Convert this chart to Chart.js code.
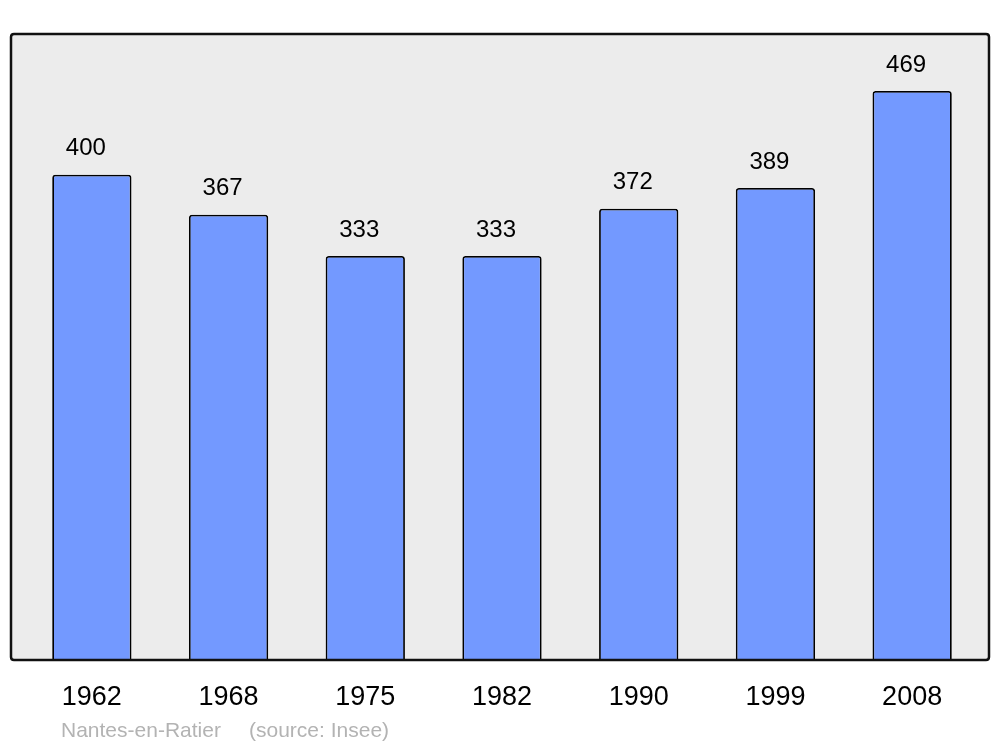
<!DOCTYPE html>
<html>
<head>
<meta charset="utf-8">
<script src="https://cdn.jsdelivr.net/npm/chart.js@4.4.0/dist/chart.umd.min.js"></script>
<style>
  html, body { margin: 0; padding: 0; background: #fff; }
  #wrap { width: 1000px; height: 747px; }
</style>
</head>
<body>
<div id="wrap"><canvas id="popChart" width="1000" height="747"></canvas></div>
<script>
var years = ["1962", "1968", "1975", "1982", "1990", "1999", "2008"];
var population = [400, 367, 333, 333, 372, 389, 469];
var commune = "Nantes-en-Ratier";
var source = "(source: Insee)";

var FONT = "'Liberation Sans', Arial, sans-serif";

function roundRect(ctx, x, y, w, h, r) {
	ctx.beginPath();
	ctx.moveTo(x + r, y);
	ctx.lineTo(x + w - r, y);
	ctx.quadraticCurveTo(x + w, y, x + w, y + r);
	ctx.lineTo(x + w, y + h - r);
	ctx.quadraticCurveTo(x + w, y + h, x + w - r, y + h);
	ctx.lineTo(x + r, y + h);
	ctx.quadraticCurveTo(x, y + h, x, y + h - r);
	ctx.lineTo(x, y + r);
	ctx.quadraticCurveTo(x, y, x + r, y);
	ctx.closePath();
}

// grey frame behind the bars, outline drawn on top
var framePlugin = {
	id: 'frame',
	beforeDatasetsDraw: function(chart) {
		var a = chart.chartArea, ctx = chart.ctx;
		ctx.save();
		roundRect(ctx, a.left - 12.5, a.top, a.right - a.left + 21, a.bottom - a.top, 3);
		ctx.fillStyle = '#ececec';
		ctx.fill();
		ctx.restore();
	},
	afterDatasetsDraw: function(chart) {
		var a = chart.chartArea, ctx = chart.ctx;
		var meta = chart.getDatasetMeta(0);
		ctx.save();
		// value labels
		ctx.fillStyle = '#000';
		ctx.font = '24px ' + FONT;
		ctx.textAlign = 'center';
		ctx.textBaseline = 'middle';
		for (var i = 0; i < meta.data.length; i++) {
			var bar = meta.data[i];
			ctx.fillText(String(population[i]), bar.x - 6, bar.y - 26);
		}
		// outline
		roundRect(ctx, a.left - 12.5, a.top, a.right - a.left + 21, a.bottom - a.top, 3);
		ctx.lineWidth = 2.5;
		ctx.strokeStyle = '#111';
		ctx.stroke();
		// source line
		ctx.fillStyle = '#b3b3b3';
		ctx.font = '21px ' + FONT;
		ctx.textAlign = 'left';
		ctx.fillText(commune, 61, 731);
		ctx.fillText(source, 249, 731);
		ctx.restore();
	}
};

var ctx = document.getElementById('popChart').getContext('2d');
var popChart = new Chart(ctx, {
	type: 'bar',
	data: {
		labels: years,
		datasets: [{
			data: population,
			backgroundColor: '#7399ff',
			borderColor: '#000',
			borderWidth: 1.8,
			borderSkipped: 'bottom',
			borderRadius: { topLeft: 3, topRight: 3, bottomLeft: 0, bottomRight: 0 },
			barPercentage: 0.58,
			categoryPercentage: 1
		}]
	},
	options: {
		responsive: false,
		animation: false,
		layout: { padding: { left: 23.5, right: 19.5, top: 34, bottom: 0 } },
		plugins: {
			legend: { display: false },
			tooltip: { enabled: false }
		},
		scales: {
			x: {
				grid: { display: false },
				border: { display: false },
				ticks: {
					color: '#000',
					font: { family: FONT, size: 27 },
					padding: 13
				},
				afterFit: function(scale) { scale.height = 87; }
			},
			y: {
				display: false,
				min: 0,
				max: 516
			}
		}
	},
	plugins: [framePlugin]
});
</script>
</body>
</html>
